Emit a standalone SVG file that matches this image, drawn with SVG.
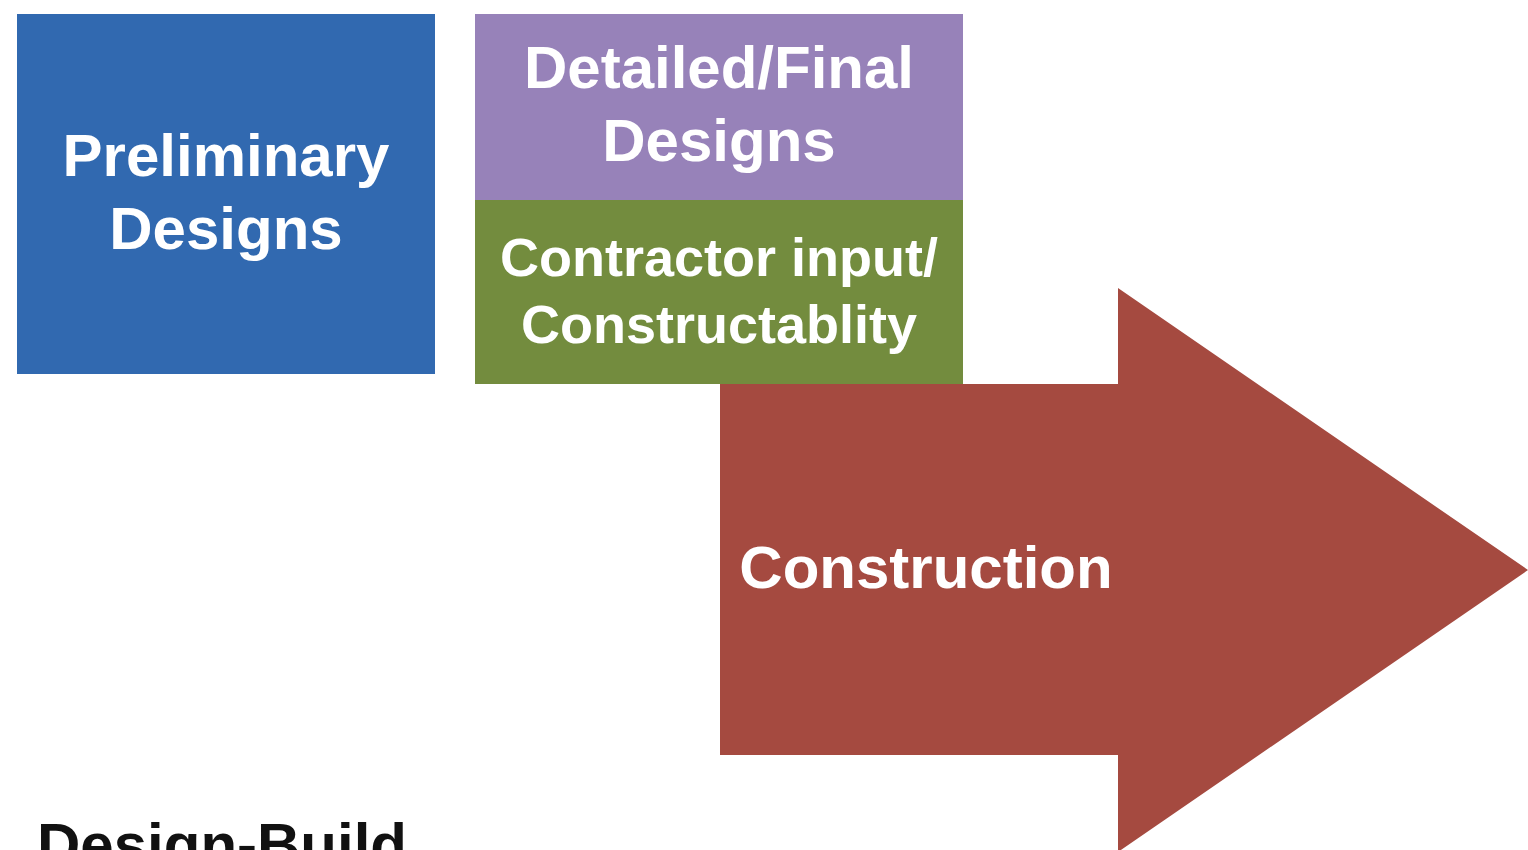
<svg xmlns="http://www.w3.org/2000/svg" width="1528" height="850" viewBox="0 0 1528 850">
<style>
.lbl{font-family:"Liberation Sans",Arial,sans-serif;font-weight:bold;fill:#ffffff;text-anchor:middle}
.cap{font-family:"Liberation Sans",Arial,sans-serif;font-weight:bold;fill:#111111}
</style>
<rect width="1528" height="850" fill="#ffffff"/>
<g id="connectors"></g>
<g id="construction">
<polygon points="720,384 1118,384 1118,288 1528,570 1118,852 1118,755 720,755" fill="#a54a40"/>
<text class="lbl" x="926" y="588" font-size="60">Construction</text>
</g>
<g id="preliminary">
<rect x="17" y="14" width="418" height="360" fill="#3169b0"/>
<text class="lbl" x="226" y="176" font-size="60">Preliminary</text>
<text class="lbl" x="226" y="249" font-size="60">Designs</text>
</g>
<g id="detailed">
<rect x="475" y="14" width="488" height="187" fill="#9782b9"/>
<text class="lbl" x="719" y="88" font-size="60">Detailed/Final</text>
<text class="lbl" x="719" y="161" font-size="60">Designs</text>
</g>
<g id="contractor">
<rect x="475" y="200" width="488" height="184" fill="#738c3e"/>
<text class="lbl" x="719" y="276" font-size="54">Contractor input/</text>
<text class="lbl" x="719" y="343" font-size="54">Constructablity</text>
</g>
<g id="caption">
<text class="cap" x="37" y="865" font-size="60">Design-Build</text>
</g>
</svg>
